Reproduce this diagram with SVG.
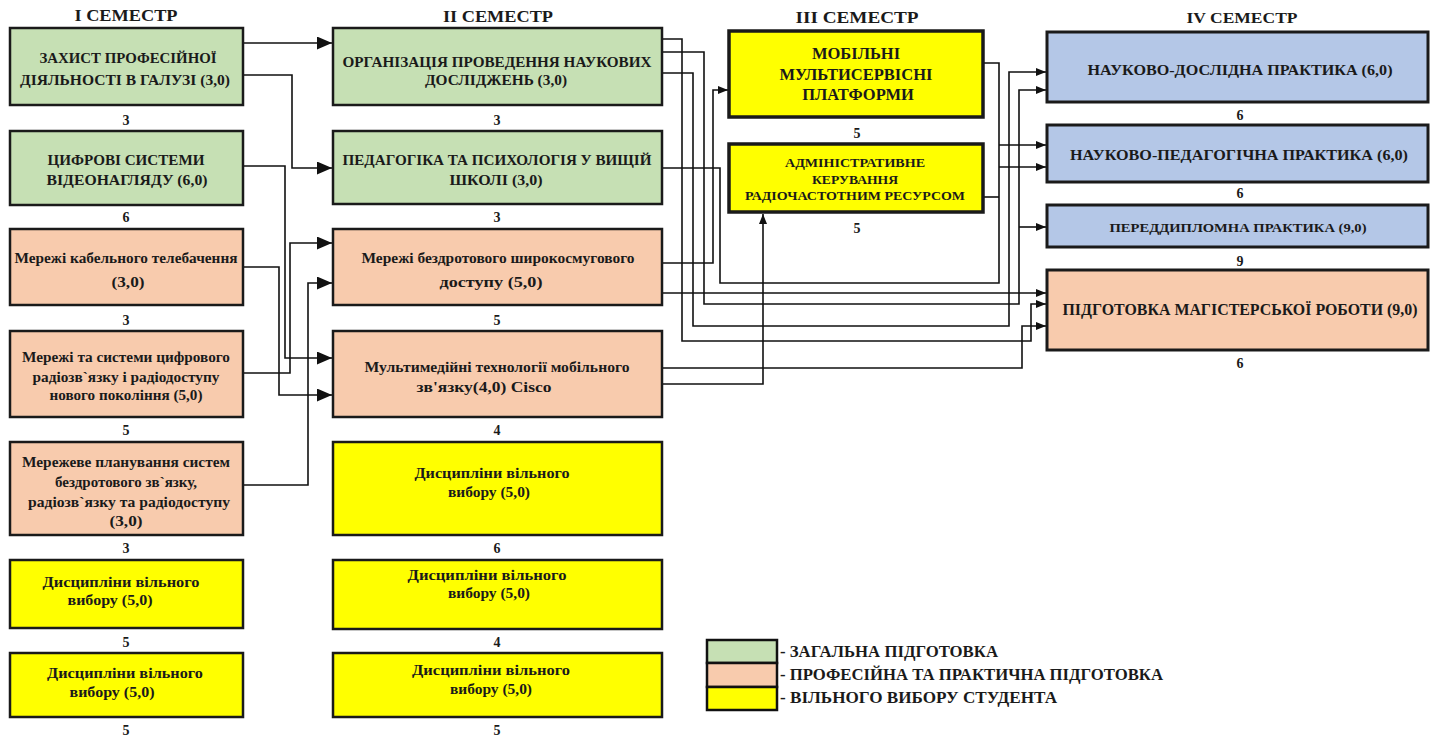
<svg xmlns="http://www.w3.org/2000/svg" width="1435" height="740" viewBox="0 0 1435 740">
<style>
text{font-family:"Liberation Serif","Times New Roman",serif;font-weight:bold;fill:#1a1a1a;text-anchor:middle}
.g{fill:#c6e0b4;stroke:#1a1a1a;stroke-width:2.5}
.o{fill:#f8cbad;stroke:#1a1a1a;stroke-width:2.5}
.y{fill:#ffff00;stroke:#1a1a1a;stroke-width:2.5}
.y3{fill:#ffff00;stroke:#1a1a1a;stroke-width:3.5}
.b{fill:#b4c7e7;stroke:#1a1a1a;stroke-width:3}
.o4{fill:#f8cbad;stroke:#1a1a1a;stroke-width:3}
.t{font-size:15px}
.p{font-size:16.5px}
.s{font-size:13px}
.n{font-size:14px}
.h{font-size:16px}
.l{font-size:16px;text-anchor:start}
.c{fill:none;stroke:#111;stroke-width:1.6}
.big{marker-end:url(#ab)}
.sm{marker-end:url(#as)}
</style>
<defs>
<marker id="ab" markerWidth="15" markerHeight="13" refX="15" refY="6.5" orient="auto" markerUnits="userSpaceOnUse"><path d="M0,0 L15,6.5 L0,13 z" fill="#111"/></marker>
<marker id="as" markerWidth="10" markerHeight="8" refX="10" refY="4" orient="auto" markerUnits="userSpaceOnUse"><path d="M0,0 L10,4 L0,8 z" fill="#111"/></marker>
</defs>
<rect width="1435" height="740" fill="#ffffff"/>

<!-- headers -->
<text class="h" x="126" y="21" textLength="103" lengthAdjust="spacingAndGlyphs">I СЕМЕСТР</text>
<text class="h" x="498" y="22" textLength="110" lengthAdjust="spacingAndGlyphs">II СЕМЕСТР</text>
<text class="h" x="857" y="23" textLength="123" lengthAdjust="spacingAndGlyphs">III СЕМЕСТР</text>
<text class="h" x="1242" y="23" style="font-size:14px" textLength="111" lengthAdjust="spacingAndGlyphs">IV  СЕМЕСТР</text>

<!-- connectors -->
<g id="connectors">
<path class="c big" d="M244,43 H332"/>
<path class="c big" d="M244,75 H292 V168 H332"/>
<path class="c big" d="M244,166 H285 V358 H332"/>
<path class="c big" d="M244,267 H279 V395 H332"/>
<path class="c big" d="M244,373 H290 V243 H332"/>
<path class="c big" d="M244,485 H308 V283 H332"/>
<path class="c sm" d="M663,263 H713 V90 H728"/>
<path class="c sm" d="M663,384 H763 V214"/>
<path class="c sm" d="M663,39 H682 V341 H1031 V304 H1046"/>
<path class="c sm" d="M663,52 H704 V304 H1019 V90 H1046"/>
<path class="c sm" d="M1019,227 H1046"/>
<path class="c sm" d="M663,73 H693 V326 H1009 V72 H1046"/>
<path class="c" d="M984,63 H999 V283 H720 V168 H663"/>
<path class="c" d="M984,197 H999"/>
<path class="c sm" d="M999,145 H1046"/>
<path class="c sm" d="M999,167 H1046"/>
<path class="c sm" d="M663,293 H1046"/>
<path class="c sm" d="M663,368 H1022 V326 H1046"/>
</g>

<!-- Column I -->
<g id="a1"><rect class="g" x="10" y="28" width="233" height="77"/>
<text class="t" x="128" y="63" textLength="177" lengthAdjust="spacingAndGlyphs">ЗАХИСТ ПРОФЕСІЙНОЇ</text>
<text class="t" x="125" y="85" textLength="210" lengthAdjust="spacingAndGlyphs">ДІЯЛЬНОСТІ В ГАЛУЗІ (3,0)</text>
<text class="n" x="126" y="125">3</text></g>
<g id="a2"><rect class="g" x="10" y="131" width="233" height="74"/>
<text class="t" x="126" y="165" textLength="157" lengthAdjust="spacingAndGlyphs">ЦИФРОВІ СИСТЕМИ</text>
<text class="t" x="127" y="185" textLength="161" lengthAdjust="spacingAndGlyphs">ВІДЕОНАГЛЯДУ (6,0)</text>
<text class="n" x="126" y="222">6</text></g>
<g id="a3"><rect class="o" x="10" y="229" width="233" height="76"/>
<text class="t" x="126" y="263" textLength="223" lengthAdjust="spacingAndGlyphs">Мережі кабельного телебачення</text>
<text class="t" x="128" y="287" textLength="33" lengthAdjust="spacingAndGlyphs">(3,0)</text>
<text class="n" x="126" y="325">3</text></g>
<g id="a4"><rect class="o" x="10" y="331" width="233" height="86"/>
<text class="t" x="126" y="362" textLength="208" lengthAdjust="spacingAndGlyphs">Мережі та системи цифрового</text>
<text class="t" x="126" y="382" textLength="187" lengthAdjust="spacingAndGlyphs">радіозв`язку і радіодоступу</text>
<text class="t" x="126" y="400" textLength="153" lengthAdjust="spacingAndGlyphs">нового покоління (5,0)</text>
<text class="n" x="126" y="435">5</text></g>
<g id="a5"><rect class="o" x="10" y="442" width="233" height="93"/>
<text class="t" x="126" y="467" textLength="208" lengthAdjust="spacingAndGlyphs">Мережеве планування систем</text>
<text class="t" x="126" y="487" textLength="142" lengthAdjust="spacingAndGlyphs">бездротового зв`язку,</text>
<text class="t" x="129" y="507" textLength="202" lengthAdjust="spacingAndGlyphs">радіозв`язку та радіодоступу</text>
<text class="t" x="126" y="526" textLength="33" lengthAdjust="spacingAndGlyphs">(3,0)</text>
<text class="n" x="126" y="553">3</text></g>
<g id="a6"><rect class="y" x="10" y="560" width="233" height="68"/>
<text class="t" x="121" y="587" textLength="157" lengthAdjust="spacingAndGlyphs">Дисципліни вільного</text>
<text class="t" x="110" y="605" textLength="85" lengthAdjust="spacingAndGlyphs">вибору (5,0)</text>
<text class="n" x="126" y="647">5</text></g>
<g id="a7"><rect class="y" x="10" y="653" width="233" height="64"/>
<text class="t" x="125" y="678" textLength="156" lengthAdjust="spacingAndGlyphs">Дисципліни вільного</text>
<text class="t" x="112" y="697" textLength="85" lengthAdjust="spacingAndGlyphs">вибору (5,0)</text>
<text class="n" x="126" y="735">5</text></g>

<!-- Column II -->
<g id="b1"><rect class="g" x="333" y="28" width="329" height="77"/>
<text class="t" x="497" y="67" textLength="309" lengthAdjust="spacingAndGlyphs">ОРГАНІЗАЦІЯ ПРОВЕДЕННЯ НАУКОВИХ</text>
<text class="t" x="496" y="85" textLength="142" lengthAdjust="spacingAndGlyphs">ДОСЛІДЖЕНЬ (3,0)</text>
<text class="n" x="497" y="125">3</text></g>
<g id="b2"><rect class="g" x="333" y="131" width="329" height="73"/>
<text class="t" x="497" y="165" textLength="309" lengthAdjust="spacingAndGlyphs">ПЕДАГОГІКА ТА ПСИХОЛОГІЯ У ВИЩІЙ</text>
<text class="t" x="496" y="185" textLength="93" lengthAdjust="spacingAndGlyphs">ШКОЛІ (3,0)</text>
<text class="n" x="497" y="222">3</text></g>
<g id="b3"><rect class="o" x="333" y="229" width="329" height="76"/>
<text class="t" x="498" y="263" textLength="273" lengthAdjust="spacingAndGlyphs">Мережі бездротового широкосмугового</text>
<text class="t" x="491" y="287" textLength="103" lengthAdjust="spacingAndGlyphs">доступу (5,0)</text>
<text class="n" x="497" y="325">5</text></g>
<g id="b4"><rect class="o" x="333" y="331" width="329" height="86"/>
<text class="t" x="497" y="372" textLength="265" lengthAdjust="spacingAndGlyphs">Мультимедійні технології мобільного</text>
<text class="t" x="484" y="392" textLength="135" lengthAdjust="spacingAndGlyphs">зв'язку(4,0) Cisco</text>
<text class="n" x="497" y="435">4</text></g>
<g id="b5"><rect class="y" x="333" y="442" width="329" height="93"/>
<text class="t" x="492" y="478" textLength="155" lengthAdjust="spacingAndGlyphs">Дисципліни вільного</text>
<text class="t" x="489" y="497" textLength="82" lengthAdjust="spacingAndGlyphs">вибору (5,0)</text>
<text class="n" x="497" y="553">6</text></g>
<g id="b6"><rect class="y" x="333" y="560" width="329" height="69"/>
<text class="t" x="487" y="580" textLength="159" lengthAdjust="spacingAndGlyphs">Дисципліни вільного</text>
<text class="t" x="489" y="598" textLength="82" lengthAdjust="spacingAndGlyphs">вибору (5,0)</text>
<text class="n" x="497" y="647">4</text></g>
<g id="b7"><rect class="y" x="333" y="653" width="329" height="64"/>
<text class="t" x="491" y="675" textLength="158" lengthAdjust="spacingAndGlyphs">Дисципліни вільного</text>
<text class="t" x="491" y="694" textLength="82" lengthAdjust="spacingAndGlyphs">вибору (5,0)</text>
<text class="n" x="497" y="735">5</text></g>

<!-- Column III -->
<g id="c1"><rect class="y3" x="729" y="31" width="254" height="86"/>
<text class="p" x="856" y="59">МОБІЛЬНІ</text>
<text class="p" x="856" y="80">МУЛЬТИСЕРВІСНІ</text>
<text class="p" x="858" y="100">ПЛАТФОРМИ</text>
<text class="n" x="857" y="138">5</text></g>
<g id="c2"><rect class="y3" x="729" y="144" width="254" height="68"/>
<text class="s" x="855" y="167" textLength="140" lengthAdjust="spacingAndGlyphs">АДМІНІСТРАТИВНЕ</text>
<text class="s" x="855" y="184" textLength="86" lengthAdjust="spacingAndGlyphs">КЕРУВАННЯ</text>
<text class="s" x="855" y="200" textLength="220" lengthAdjust="spacingAndGlyphs">РАДІОЧАСТОТНИМ РЕСУРСОМ</text>
<text class="n" x="857" y="233">5</text></g>

<!-- Column IV -->
<g id="d1"><rect class="b" x="1047" y="32" width="381" height="70"/>
<text class="t" x="1240" y="75" textLength="305" lengthAdjust="spacingAndGlyphs">НАУКОВО-ДОСЛІДНА ПРАКТИКА (6,0)</text>
<text class="n" x="1240" y="120">6</text></g>
<g id="d2"><rect class="b" x="1047" y="125" width="381" height="57"/>
<text class="t" x="1239" y="160" textLength="338" lengthAdjust="spacingAndGlyphs">НАУКОВО-ПЕДАГОГІЧНА ПРАКТИКА (6,0)</text>
<text class="n" x="1240" y="198">6</text></g>
<g id="d3"><rect class="b" x="1047" y="205" width="381" height="42"/>
<text class="s" x="1238" y="232" textLength="257" lengthAdjust="spacingAndGlyphs">ПЕРЕДДИПЛОМНА ПРАКТИКА (9,0)</text>
<text class="n" x="1240" y="266">9</text></g>
<g id="d4"><rect class="o4" x="1047" y="270" width="381" height="80"/>
<text class="t" x="1240" y="315" style="font-size:16px" textLength="355" lengthAdjust="spacingAndGlyphs">ПІДГОТОВКА МАГІСТЕРСЬКОЇ РОБОТИ (9,0)</text>
<text class="n" x="1240" y="368">6</text></g>

<!-- Legend -->
<g id="legend">
<rect x="707" y="640" width="70" height="23" fill="#c6e0b4" stroke="#111" stroke-width="2.5"/>
<rect x="707" y="663" width="70" height="24" fill="#f8cbad" stroke="#111" stroke-width="2.5"/>
<rect x="707" y="687" width="70" height="23" fill="#ffff00" stroke="#111" stroke-width="2.5"/>
<text class="l" x="780" y="657" textLength="218" lengthAdjust="spacingAndGlyphs">- ЗАГАЛЬНА ПІДГОТОВКА</text>
<text class="l" x="780" y="680" textLength="383" lengthAdjust="spacingAndGlyphs">- ПРОФЕСІЙНА ТА ПРАКТИЧНА ПІДГОТОВКА</text>
<text class="l" x="780" y="703" textLength="277" lengthAdjust="spacingAndGlyphs">- ВІЛЬНОГО ВИБОРУ СТУДЕНТА</text>
</g>
</svg>
